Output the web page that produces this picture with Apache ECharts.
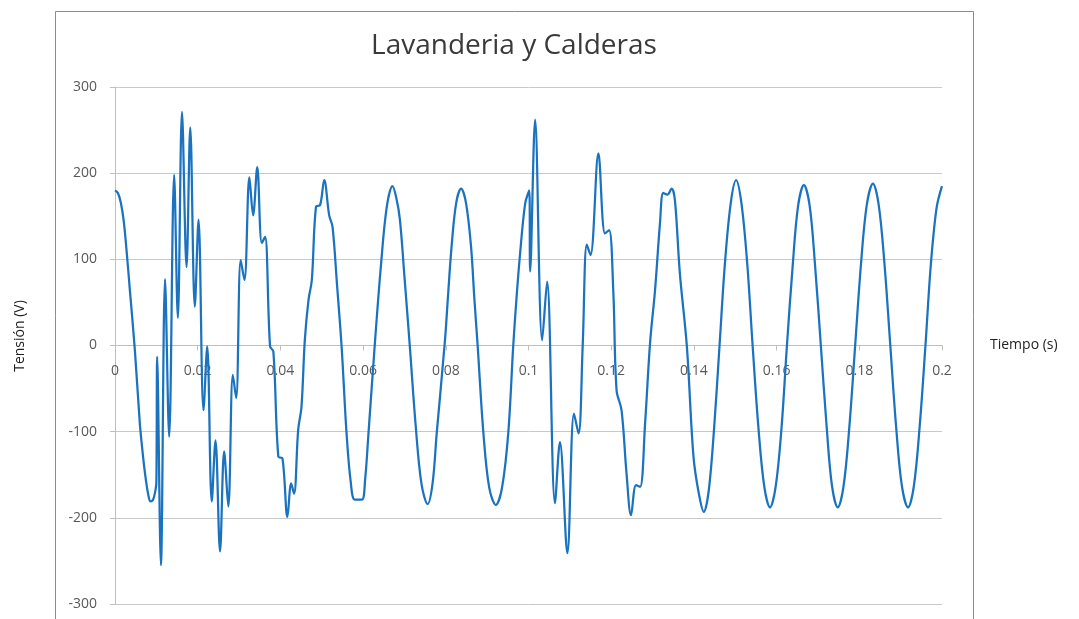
<!DOCTYPE html>
<html>
<head>
<meta charset="utf-8">
<script src="https://cdn.jsdelivr.net/npm/echarts@6/dist/echarts.min.js"></script>
<style>
html,body{margin:0;padding:0;background:#fff;}
#chart{width:1079px;height:619px;}
</style>
</head>
<body>
<div id="chart"></div>
<script>
var chartTitle = "Lavanderia y Calderas";
var xName = "Tiempo (s)";
var yName = "Tensión (V)";
var yTicks = [-300, -200, -100, 0, 100, 200, 300];
var xTicks = [0, 0.02, 0.04, 0.06, 0.08, 0.1, 0.12, 0.14, 0.16, 0.18, 0.2];

var times = [
0.0000,0.0007,0.0014,0.0021,0.0028,0.0036,0.0048,0.0060,0.0067,0.0073,0.0080,0.0086,0.0092,0.0097,0.0100,0.0102,
0.0111,0.0121,0.0131,0.0143,0.0152,0.0162,0.0173,0.0182,0.0193,0.0202,0.0214,0.0223,0.0234,0.0243,0.0254,0.0264,
0.0274,0.0285,0.0293,0.0304,0.0313,0.0325,0.0334,0.0344,0.0355,0.0363,0.0375,0.0383,0.0395,0.0405,0.0417,0.0426,
0.0433,0.0443,0.0451,0.0459,0.0468,0.0476,0.0486,0.0496,0.0506,0.0518,0.0526,0.0537,0.0548,0.0560,0.0570,0.0580,
0.0597,0.0605,0.0613,0.0629,0.0643,0.0657,0.0671,0.0680,0.0689,0.0700,0.0713,0.0727,0.0741,0.0756,0.0768,0.0778,
0.0798,0.0805,0.0814,0.0825,0.0837,0.0849,0.0861,0.0869,0.0877,0.0891,0.0905,0.0921,0.0936,0.0951,0.0963,0.0971,
0.0979,0.0992,0.1002,0.1004,0.1016,0.1033,0.1045,0.1064,0.1076,0.1094,0.1110,0.1121,0.1131,0.1141,0.1150,0.1169,
0.1185,0.1195,0.1205,0.1213,0.1225,0.1237,0.1248,0.1260,0.1270,0.1282,0.1294,0.1306,0.1318,0.1326,0.1336,0.1346,
0.1354,0.1366,0.1383,0.1399,0.1412,0.1424,0.1436,0.1449,0.1462,0.1475,0.1489,0.1502,0.1515,0.1529,0.1542,0.1556,
0.1570,0.1584,0.1598,0.1612,0.1625,0.1639,0.1652,0.1666,0.1680,0.1693,0.1707,0.1721,0.1734,0.1748,0.1762,0.1776,
0.1790,0.1804,0.1818,0.1833,0.1847,0.1861,0.1875,0.1889,0.1903,0.1918,0.1932,0.1946,0.1960,0.1973,0.1987,0.2000
];
var volts = [
180,177,166,145,110,64,-5,-90,-125,-150,-172,-181,-179,-170,-160,-13,
-255,77,-106,198,32,271,91,253,45,146,-75,-1,-181,-110,-239,-123,
-187,-34,-61,99,76,195,151,207,119,126,-1,-7,-129,-131,-199,-160,
-172,-98,-71,6,53,76,161,163,192,151,138,70,-1,-102,-158,-179,
-179,-155,-102,6,92,160,185,172,146,80,-1,-92,-160,-184,-160,-102,
6,55,115,165,182,165,115,55,0,-102,-165,-185,-165,-102,-1,55,
103,165,180,86,262,6,74,-183,-112,-241,-79,-102,-1,117,105,223,
130,134,64,-52,-75,-148,-197,-162,-164,-90,3,64,142,177,175,182,
169,84,-1,-129,-172,-193,-168,-95,0,95,165,192,165,95,0,-95,
-163,-188,-163,-95,0,93,162,186,162,93,0,-94,-163,-188,-163,-94,
0,94,163,188,163,94,0,-94,-163,-188,-163,-94,0,94,160,185
];

var seriesData = times.map(function (t, i) { return [t, volts[i]]; });

var chart = echarts.init(document.getElementById('chart'), null, {renderer: 'canvas'});
var labelColor = '#595959';
var gridColor = '#c9c9c9';
var font = '"Open Sans", "Liberation Sans", sans-serif';

var gridTop = 87, gridBottom = 15, chartH = 619;
var plotH = chartH - gridTop - gridBottom;
// x axis crosses the y axis at 0 (offset computed from the y range)
var yMin = yTicks[0], yMax = yTicks[yTicks.length - 1];
var xAxisOffset = -plotH * (0 - yMin) / (yMax - yMin);

chart.setOption({
  animation: false,
  backgroundColor: '#ffffff',
  title: {
    text: chartTitle,
    left: 509,
    top: 27,
    textAlign: 'center',
    textStyle: {fontSize: 28, fontWeight: 'normal', color: '#3a3a3a', fontFamily: font}
  },
  graphic: [
    {type: 'rect', shape: {x: 55.5, y: 11.5, width: 918, height: 700},
     style: {fill: 'none', stroke: '#8c8c8c', lineWidth: 1}, silent: true},
    {type: 'text', x: 20, y: 336, rotation: Math.PI / 2,
     style: {text: yName, fill: '#222', font: '14px ' + font, textAlign: 'center', textVerticalAlign: 'middle'}}
  ],
  grid: {left: 115, right: 137, top: gridTop, bottom: gridBottom, containLabel: false},
  xAxis: {
    type: 'value',
    position: 'bottom',
    offset: xAxisOffset,
    min: xTicks[0],
    max: xTicks[xTicks.length - 1],
    interval: 0.02,
    name: xName,
    nameLocation: 'end',
    nameGap: 48,
    nameTextStyle: {color: '#222', fontSize: 14, fontFamily: font, verticalAlign: 'middle', padding: [4, 0, 0, 0]},
    axisLine: {show: true, onZero: false, lineStyle: {color: '#bfbfbf', width: 1}},
    axisTick: {show: true, length: 5, lineStyle: {color: '#bfbfbf'}},
    splitLine: {show: false},
    axisLabel: {
      margin: 19, color: labelColor, fontSize: 14, fontFamily: font,
      formatter: function (v) { return String(+v.toFixed(2)); }
    }
  },
  yAxis: {
    type: 'value',
    min: yMin,
    max: yMax,
    interval: 100,
    axisLine: {show: true, onZero: false, lineStyle: {color: '#bfbfbf', width: 1}},
    axisTick: {show: true, length: 5, lineStyle: {color: '#bfbfbf'}},
    splitLine: {show: true, lineStyle: {color: gridColor, width: 1}},
    axisLabel: {margin: 18, color: labelColor, fontSize: 14, fontFamily: font}
  },
  series: [{
    type: 'line',
    data: seriesData,
    showSymbol: false,
    smooth: 0.35,
    lineStyle: {color: '#1b73c0', width: 2.25},
    itemStyle: {color: '#1b73c0'}
  }]
});
</script>
</body>
</html>
